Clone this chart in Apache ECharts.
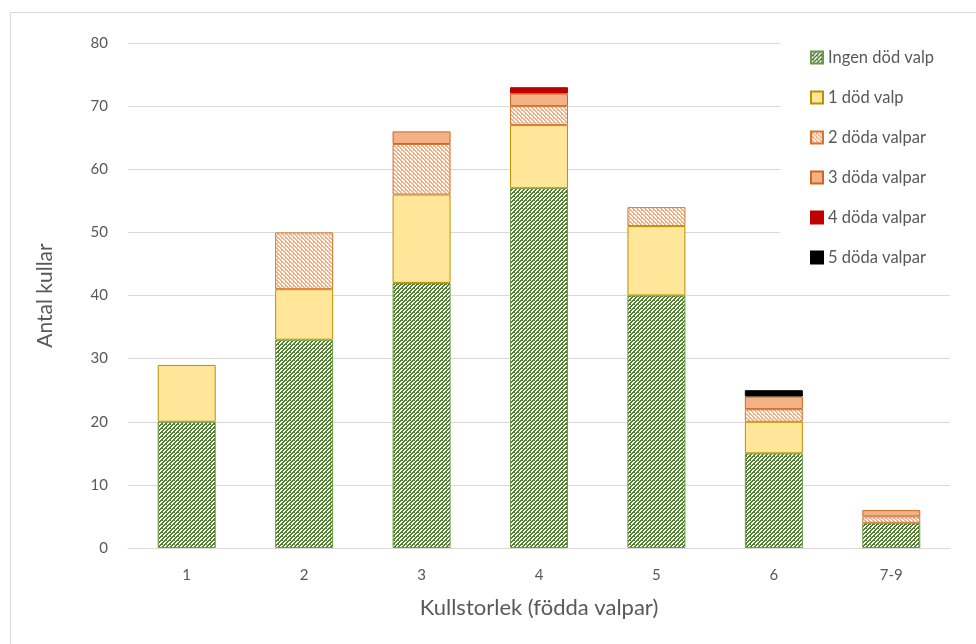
<!DOCTYPE html>
<html>
<head>
<meta charset="utf-8">
<script src="https://cdn.jsdelivr.net/npm/echarts@6/dist/echarts.min.js"></script>
<style>
  html, body { margin: 0; padding: 0; background: #fff; }
  #chart { width: 976px; height: 644px; }
</style>
</head>
<body>
<div id="chart"></div>
<script>
// kullstorlek (födda valpar)
const categories = ['1', '2', '3', '4', '5', '6', '7-9'];

// antal kullar per antal döda valpar
const ingenDod = [20, 33, 42, 57, 40, 15, 4];
const enDod    = [9, 8, 14, 10, 11, 5, 0];
const tvaDoda  = [0, 9, 8, 3, 3, 2, 1];
const treDoda  = [0, 0, 2, 2, 0, 2, 1];
const fyraDoda = [0, 0, 0, 1, 0, 0, 0];
const femDoda  = [0, 0, 0, 0, 0, 1, 0];

const seriesNames = ['Ingen död valp', '1 död valp', '2 döda valpar', '3 döda valpar', '4 döda valpar', '5 döda valpar'];

// small tiled patterns like the excel fills
function makePattern(fg, test) {
  const c = document.createElement('canvas');
  c.width = 8; c.height = 8;
  const ctx = c.getContext('2d');
  ctx.fillStyle = '#fff';
  ctx.fillRect(0, 0, 8, 8);
  ctx.fillStyle = fg;
  for (let y = 0; y < 8; y++) {
    for (let x = 0; x < 8; x++) {
      if (test(x, y)) ctx.fillRect(x, y, 1, 1);
    }
  }
  return { image: c, repeat: 'repeat' };
}

const greenPattern = makePattern('#4f7f2f', (x, y) => ((x + y) % 4 < 2) || (y % 4 === 0 && x % 2 === 0));
const orangePattern = makePattern('#f4b183', (x, y) => ((x - y + 8) % 4 < 2) || (y % 4 === 2 && x % 2 === 1));

const styles = [
  { color: greenPattern, borderColor: '#6b9a4a' },
  { color: '#ffe699', borderColor: '#bf9000' },
  { color: orangePattern, borderColor: '#d8742f' },
  { color: '#f4b183', borderColor: '#d0661f' },
  { color: '#c00000', borderColor: '#c00000' },
  { color: '#000000', borderColor: '#000000' }
];

const allData = [ingenDod, enDod, tvaDoda, treDoda, fyraDoda, femDoda];

var mychart = echarts.init(document.getElementById('chart'));
mychart.setOption({
  animation: false,
  textStyle: { fontFamily: 'Lato' },
  graphic: [{
    type: 'rect',
    shape: { x: 10.5, y: 12.5, width: 980, height: 660 },
    style: { fill: 'none', stroke: '#d9d9d9', lineWidth: 1 },
    z: -1
  }],
  grid: { left: 128, right: 26, top: 43, bottom: 96 },
  legend: {
    orient: 'vertical',
    left: 780,
    top: 30,
    padding: [19, 20, 22, 30],
    backgroundColor: '#fff',
    itemWidth: 12,
    itemHeight: 12,
    itemGap: 23,
    icon: 'rect',
    textStyle: { fontSize: 16.5, color: '#595959', fontFamily: 'Lato' },
    data: seriesNames
  },
  xAxis: {
    type: 'category',
    data: categories,
    axisLine: { lineStyle: { color: '#d9d9d9' } },
    axisTick: { show: false },
    axisLabel: { color: '#595959', fontSize: 15, margin: 20 },
    name: 'Kullstorlek (födda valpar)',
    nameLocation: 'middle',
    nameGap: 49,
    nameTextStyle: { fontSize: 22, color: '#595959' }
  },
  yAxis: {
    type: 'value',
    min: 0,
    max: 80,
    interval: 10,
    axisLine: { show: false },
    axisTick: { show: false },
    axisLabel: { color: '#595959', fontSize: 15, margin: 20 },
    splitLine: { lineStyle: { color: '#d9d9d9' } },
    name: 'Antal kullar',
    nameLocation: 'middle',
    nameGap: 72,
    nameTextStyle: { fontSize: 21, color: '#595959' }
  },
  series: seriesNames.map((name, i) => ({
    name,
    type: 'bar',
    stack: 'total',
    barWidth: 58,
    itemStyle: { color: styles[i].color, borderColor: styles[i].borderColor, borderWidth: 1 },
    data: allData[i].map(v => v === 0 ? '-' : v)
  }))
});
</script>
</body>
</html>
